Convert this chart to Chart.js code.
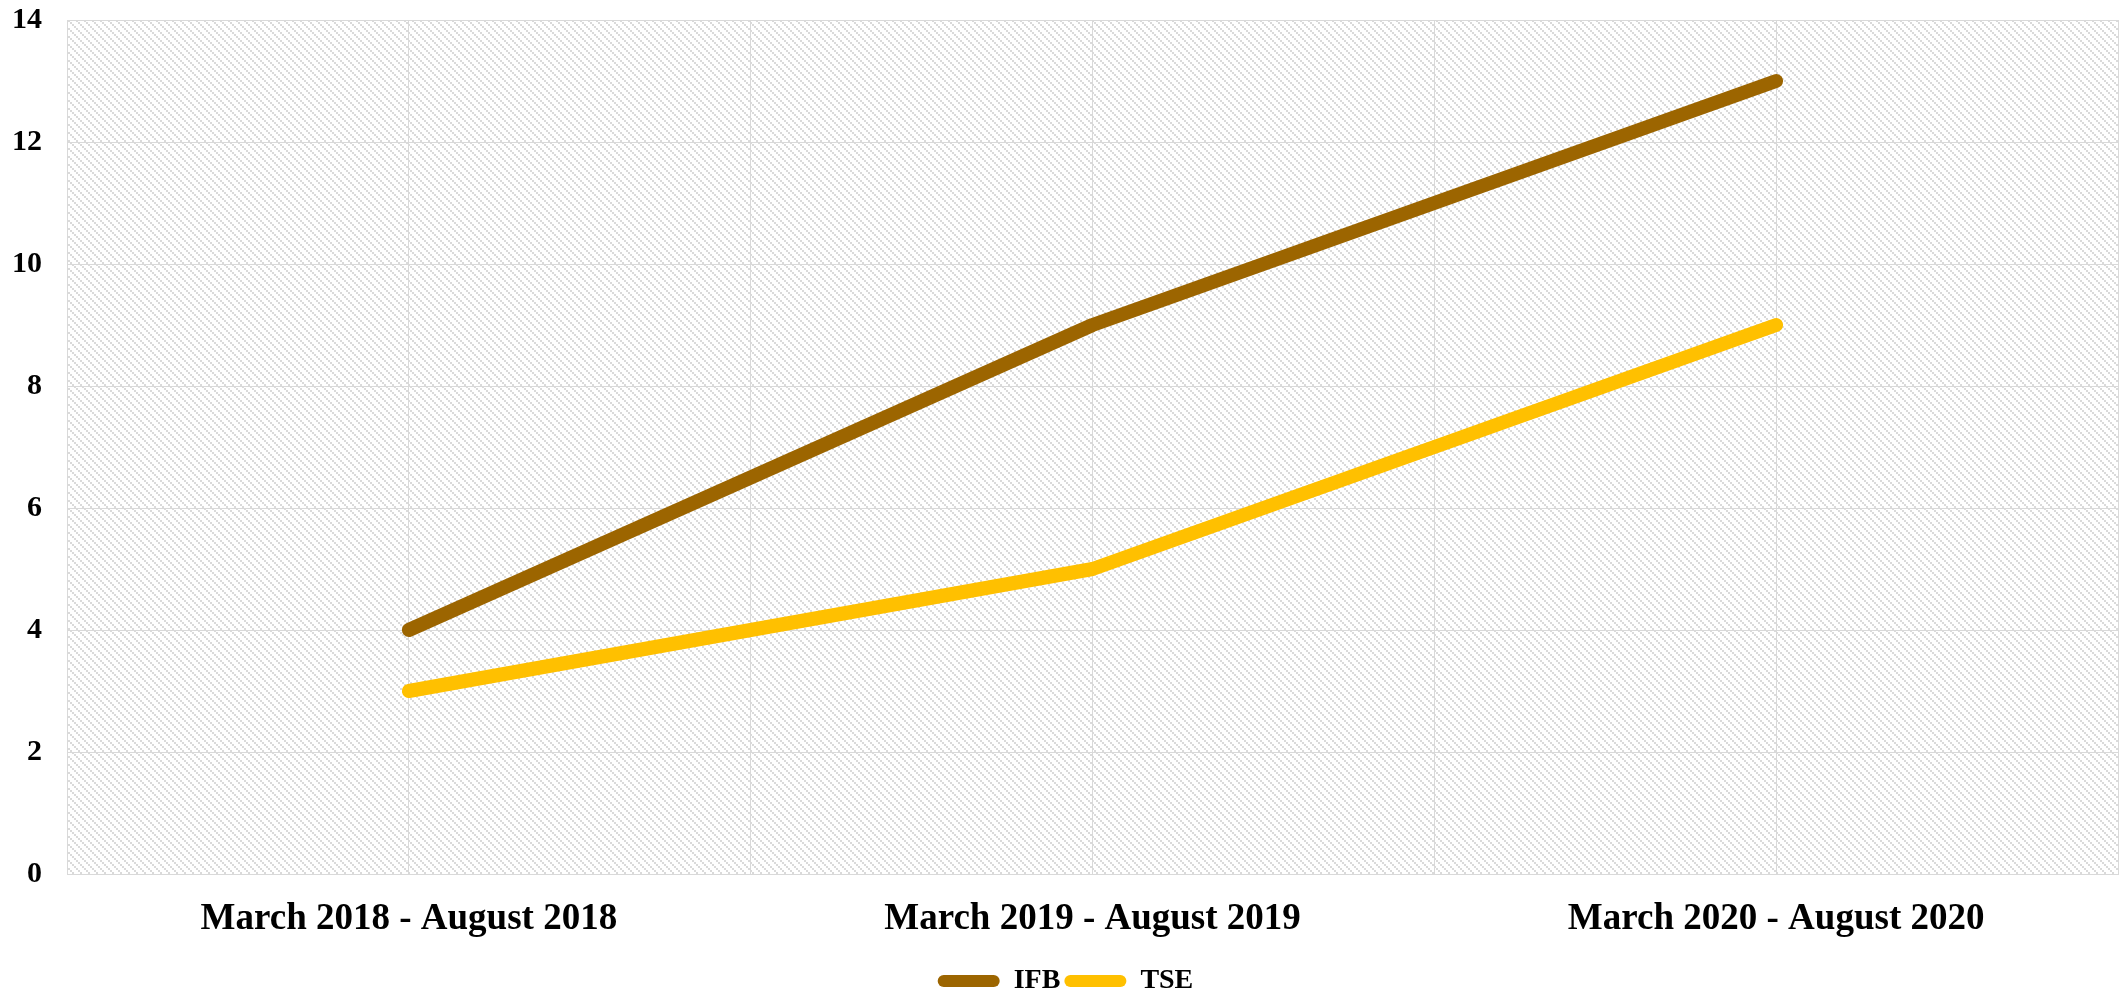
<!DOCTYPE html>
<html>
<head>
<meta charset="utf-8">
<script src="https://cdn.jsdelivr.net/npm/chart.js@4/dist/chart.umd.min.js"></script>
<style>
html,body{margin:0;padding:0;background:#fff;}
#wrap{width:2122px;height:993px;}
</style>
</head>
<body>
<div id="wrap"><canvas id="c" width="2122" height="993"></canvas></div>
<script>
const categories = ["March 2018 - August 2018", "March 2019 - August 2019", "March 2020 - August 2020"];
const ifbValues = [4, 9, 13];
const tseValues = [3, 5, 9];
const yTicks = [0, 2, 4, 6, 8, 10, 12, 14];

function makePattern(ctx) {
  const n = 8;
  const c = document.createElement('canvas');
  c.width = n; c.height = n;
  const g = c.getContext('2d');
  g.fillStyle = '#ffffff';
  g.fillRect(0, 0, n, n);
  g.fillStyle = '#dadada';
  for (let i = 0; i < n; i += 2) {
    g.fillRect(i, i, 2, 2);
  }
  return ctx.createPattern(c, 'repeat');
}

const hatchPlugin = {
  id: 'hatch',
  beforeDraw(chart) {
    const a = chart.chartArea;
    const ctx = chart.ctx;
    ctx.save();
    ctx.fillStyle = makePattern(ctx);
    ctx.fillRect(a.left, a.top, a.right - a.left, a.bottom - a.top);
    ctx.restore();
  }
};

const toPts = arr => arr.map((v, i) => ({x: i, y: v}));

new Chart(document.getElementById('c'), {
  type: 'line',
  data: {
    datasets: [
      {label: 'IFB', data: toPts(ifbValues), borderColor: '#9C6500', backgroundColor: '#9C6500',
       borderWidth: 14, borderCapStyle: 'round', borderJoinStyle: 'round', pointRadius: 0, tension: 0},
      {label: 'TSE', data: toPts(tseValues), borderColor: '#FFC000', backgroundColor: '#FFC000',
       borderWidth: 14, borderCapStyle: 'round', borderJoinStyle: 'round', pointRadius: 0, tension: 0}
    ]
  },
  options: {
    responsive: false,
    animation: false,
    devicePixelRatio: 1,
    layout: {padding: {left: 13, right: 4, top: 0, bottom: -12}},
    plugins: {
      tooltip: {enabled: false},
      legend: {
        position: 'bottom',
        labels: {
          boxWidth: 62, boxHeight: 12, useBorderRadius: true, borderRadius: 6,
          color: '#000', padding: 4,
          font: {family: 'Liberation Serif', weight: 'bold', size: 28},
          generateLabels(chart) {
            return chart.data.datasets.map((d, i) => ({
              text: d.label, fillStyle: d.borderColor, strokeStyle: d.borderColor,
              lineWidth: 0, datasetIndex: i, borderRadius: 6
            }));
          }
        }
      }
    },
    scales: {
      x: {
        type: 'linear', min: -0.5, max: 2.5,
        grid: {color: '#d9d9d9', lineWidth: 1, drawTicks: false},
        border: {color: '#d9d9d9'},
        afterFit(s) { s.paddingLeft = 0; s.paddingRight = 0; s.height = 89; },
        ticks: {
          stepSize: 0.5, autoSkip: false, maxRotation: 0, padding: 23, color: '#000',
          font: {family: 'Liberation Serif', weight: 'bold', size: 37},
          callback: v => Number.isInteger(v) ? categories[v] : ''
        }
      },
      y: {
        min: 0, max: 14,
        grid: {color: '#d9d9d9', lineWidth: 1, drawTicks: false},
        border: {color: '#d9d9d9'},
        afterBuildTicks: s => { s.ticks = yTicks.map(v => ({value: v})); },
        afterFit(s) { s.width = 54; s.paddingTop = 20; s.paddingBottom = 14; },
        ticks: {
          padding: 25, color: '#000',
          font: {family: 'Liberation Serif', weight: 'bold', size: 30}
        }
      }
    }
  },
  plugins: [hatchPlugin]
});
</script>
</body>
</html>
